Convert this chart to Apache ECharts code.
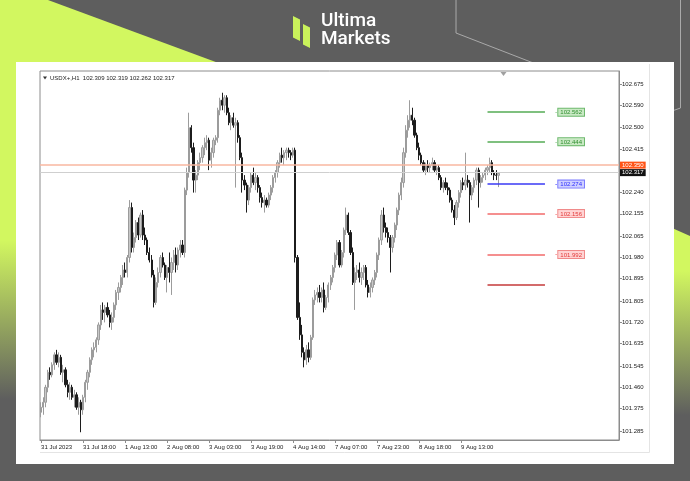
<!DOCTYPE html>
<html><head><meta charset="utf-8">
<script src="https://cdn.jsdelivr.net/npm/echarts@6/dist/echarts.min.js"></script>
<style>html,body{margin:0;padding:0;background:#5e5e5e;overflow:hidden}#c{width:690px;height:481px}</style>
</head><body><div id="c"></div>
<script>
// ---------- data ----------
const symbolTitle = 'USDX+,H1  102.309 102.319 102.262 102.317';
const opens = [101.36,101.38,101.40,101.46,101.52,101.51,101.55,101.59,101.56,101.58,101.52,101.53,101.47,101.44,101.46,101.42,101.43,101.38,101.40,101.37,
101.42,101.48,101.52,101.57,101.61,101.62,101.65,101.71,101.77,101.76,101.78,101.75,101.72,101.74,101.79,101.84,101.86,101.90,101.93,101.92,
101.98,102.18,102.02,102.06,102.12,102.07,102.15,102.07,102.05,102.00,101.97,101.91,101.80,101.88,101.92,101.98,101.95,101.90,101.94,101.92,
101.96,101.99,101.95,102.01,102.03,102.00,102.25,102.32,102.50,102.42,102.29,102.31,102.36,102.38,102.42,102.44,102.45,102.37,102.40,102.45,
102.46,102.57,102.61,102.59,102.62,102.56,102.52,102.54,102.51,102.52,102.46,102.38,102.29,102.27,102.21,102.26,102.31,102.28,102.30,102.26,
102.22,102.20,102.21,102.19,102.23,102.26,102.30,102.32,102.36,102.39,102.38,102.40,102.41,102.40,102.39,102.41,101.98,101.74,101.67,101.60,
101.57,101.61,101.58,101.66,101.81,101.83,101.84,101.82,101.85,101.78,101.82,101.87,101.90,101.94,101.99,102.04,101.95,102.00,102.09,102.15,
102.08,102.00,101.88,101.92,101.93,101.90,101.92,101.94,101.87,101.84,101.86,101.89,101.92,101.99,102.05,102.15,102.10,102.08,102.06,102.02,
102.06,102.11,102.17,102.23,102.28,102.40,102.49,102.53,102.55,102.53,102.47,102.42,102.39,102.36,102.33,102.35,102.34,102.35,102.36,102.33,
102.34,102.30,102.26,102.28,102.26,102.25,102.21,102.17,102.14,102.20,102.24,102.28,102.27,102.29,102.28,102.23,102.26,102.29,102.33,102.28,
102.30,102.31,102.33,102.34,102.36,102.32,102.31,102.309];
const highs = [101.40,101.42,101.47,101.53,101.54,101.56,101.60,101.61,101.60,101.59,101.55,101.54,101.49,101.48,101.47,101.45,101.44,101.42,101.41,101.43,
101.49,101.53,101.58,101.62,101.64,101.66,101.72,101.79,101.80,101.79,101.80,101.77,101.76,101.80,101.85,101.88,101.91,101.95,101.96,101.99,
102.21,102.20,102.08,102.13,102.14,102.16,102.17,102.10,102.06,102.02,101.99,101.93,101.90,101.94,101.99,102.00,101.96,101.95,102.00,101.98,
102.01,102.02,102.02,102.05,102.05,102.26,102.34,102.56,102.51,102.44,102.33,102.37,102.40,102.43,102.46,102.47,102.46,102.42,102.46,102.47,
102.58,102.62,102.64,102.63,102.63,102.58,102.55,102.56,102.54,102.53,102.47,102.40,102.31,102.28,102.27,102.32,102.34,102.32,102.31,102.27,
102.24,102.23,102.22,102.24,102.27,102.31,102.33,102.37,102.40,102.42,102.41,102.42,102.42,102.41,102.42,102.42,101.99,101.80,101.71,101.62,
101.63,101.64,101.67,101.82,101.85,101.86,101.87,101.86,101.88,101.83,101.88,101.91,101.95,102.00,102.05,102.05,102.01,102.10,102.18,102.16,
102.09,102.02,101.94,101.95,101.96,101.94,101.95,101.95,101.89,101.88,101.90,101.93,102.00,102.06,102.17,102.18,102.12,102.10,102.07,102.07,
102.12,102.18,102.24,102.30,102.42,102.51,102.55,102.61,102.58,102.54,102.48,102.44,102.40,102.37,102.36,102.37,102.36,102.38,102.37,102.35,
102.35,102.31,102.29,102.30,102.28,102.26,102.22,102.19,102.21,102.25,102.29,102.30,102.40,102.31,102.29,102.27,102.30,102.34,102.34,102.31,
102.32,102.34,102.35,102.38,102.37,102.33,102.33,102.319];
const lows = [101.34,101.35,101.38,101.44,101.49,101.50,101.53,101.55,101.54,101.51,101.48,101.46,101.42,101.41,101.41,101.38,101.37,101.35,101.28,101.35,
101.40,101.45,101.50,101.55,101.58,101.60,101.63,101.69,101.73,101.72,101.74,101.70,101.69,101.72,101.77,101.81,101.84,101.87,101.90,101.90,
101.96,102.00,102.00,102.04,102.05,102.06,102.05,102.03,101.99,101.96,101.90,101.78,101.79,101.86,101.90,101.94,101.89,101.84,101.88,101.83,
101.93,101.92,101.93,101.98,101.99,101.98,102.23,102.30,102.40,102.24,102.24,102.29,102.33,102.36,102.39,102.41,102.33,102.34,102.38,102.43,
102.44,102.55,102.57,102.56,102.55,102.51,102.49,102.50,102.26,102.44,102.37,102.24,102.25,102.16,102.19,102.24,102.27,102.25,102.24,102.20,
102.18,102.16,102.18,102.18,102.21,102.24,102.28,102.30,102.34,102.36,102.35,102.37,102.38,102.37,102.38,101.96,101.73,101.65,101.58,101.54,
101.55,101.56,101.57,101.65,101.79,101.80,101.80,101.80,101.76,101.77,101.80,101.85,101.88,101.92,101.97,101.94,101.94,101.98,102.07,102.07,
101.99,101.87,101.77,101.89,101.88,101.87,101.89,101.86,101.82,101.82,101.84,101.87,101.90,101.97,102.03,102.08,102.06,102.04,101.92,102.00,
102.04,102.09,102.15,102.21,102.26,102.38,102.46,102.50,102.51,102.46,102.41,102.37,102.35,102.32,102.31,102.32,102.32,102.33,102.32,102.31,
102.29,102.25,102.24,102.25,102.23,102.20,102.16,102.11,102.13,102.18,102.22,102.25,102.25,102.26,102.12,102.21,102.24,102.27,102.18,102.26,
102.28,102.29,102.31,102.32,102.31,102.29,102.29,102.262];
const closes = [101.38,101.40,101.46,101.52,101.51,101.55,101.59,101.56,101.58,101.52,101.53,101.47,101.44,101.46,101.42,101.43,101.38,101.40,101.37,101.42,
101.48,101.52,101.57,101.61,101.62,101.65,101.71,101.77,101.76,101.78,101.75,101.72,101.74,101.79,101.84,101.86,101.90,101.93,101.92,101.98,
102.18,102.02,102.06,102.12,102.07,102.15,102.07,102.05,102.00,101.97,101.91,101.80,101.88,101.92,101.98,101.95,101.90,101.94,101.92,101.96,
101.99,101.95,102.01,102.03,102.00,102.25,102.32,102.50,102.42,102.29,102.31,102.36,102.38,102.42,102.44,102.45,102.37,102.40,102.45,102.46,
102.57,102.61,102.59,102.62,102.56,102.52,102.54,102.51,102.52,102.46,102.38,102.29,102.27,102.21,102.26,102.31,102.28,102.30,102.26,102.22,
102.20,102.21,102.19,102.23,102.26,102.30,102.32,102.36,102.39,102.38,102.40,102.41,102.40,102.39,102.41,101.98,101.74,101.67,101.60,101.57,
101.61,101.58,101.66,101.81,101.83,101.84,101.82,101.85,101.78,101.82,101.87,101.90,101.94,101.99,102.04,101.95,102.00,102.09,102.15,102.08,
102.00,101.88,101.92,101.93,101.90,101.92,101.94,101.87,101.84,101.86,101.89,101.92,101.99,102.05,102.15,102.10,102.08,102.06,102.02,102.06,
102.11,102.17,102.23,102.28,102.40,102.49,102.53,102.55,102.53,102.47,102.42,102.39,102.36,102.33,102.35,102.34,102.35,102.36,102.33,102.34,
102.30,102.26,102.28,102.26,102.25,102.21,102.17,102.14,102.20,102.24,102.28,102.27,102.29,102.28,102.23,102.26,102.29,102.33,102.28,102.30,
102.31,102.33,102.34,102.36,102.32,102.31,102.309,102.317];
const xLabels = ['31 Jul 2023','31 Jul 18:00','1 Aug 13:00','2 Aug 08:00','3 Aug 03:00','3 Aug 19:00','4 Aug 14:00','7 Aug 07:00','7 Aug 23:00','8 Aug 18:00','9 Aug 13:00'];
const xLabelBars = [0,19,38,57,76,95,114,133,152,171,190];
const slotCount = 262; // bars + empty right margin of the terminal
const yTicks = [102.675,102.590,102.500,102.415,102.240,102.155,102.065,101.980,101.895,101.805,101.720,101.635,101.545,101.460,101.375,101.285];
const askPrice = 102.350;
const bidPrice = 102.317;
const levelValues = [102.562,102.444,102.274,102.156,101.992,101.870];
const levelKinds  = ['g','g','b','r','r','d'];
const levelShowLabel = [true,true,true,true,true,false];

// ---------- build ----------
const cats = Array.from({length: slotCount}, () => '');
xLabelBars.forEach((b, i) => { cats[b] = xLabels[i]; });
const labelSet = new Set(xLabelBars);
const candles = opens.map((o, i) => [o, closes[i], lows[i], highs[i]]);
const F = 'Liberation Sans';
const kindStyle = {
  g: {line:'#7fc07f', width:2, text:'#2f8f2f', bg:'#c9e9c4', border:'#6cb86c'},
  b: {line:'#3a3af5', width:1.5, text:'#2b2bff', bg:'#cfd0ff', border:'#7b7bff'},
  r: {line:'#f26a6a', width:1.5, text:'#e23a3a', bg:'#ffd4d4', border:'#f08a8a'},
  d: {line:'#c43a3a', width:1.5, text:'#c43a3a', bg:'#ffd4d4', border:'#f08a8a'}
};
const LVL_START = 202, LVL_END = 228;
const levelLines = levelValues.map((v, i) => {
  const s = kindStyle[levelKinds[i]];
  return [
    {coord:[LVL_START, v], lineStyle:{color:s.line, width:s.width, type:'solid'},
     label:{show: levelShowLabel[i], position:'end', distance:10,
       formatter:'{d|-}{b|' + v.toFixed(3) + '}',
       rich:{ d:{color:s.line, fontSize:7, fontFamily:F, padding:[0,1,0,0]},
              b:{color:s.text, fontSize:6, fontFamily:F, backgroundColor:s.bg, borderColor:s.border, borderWidth:1, padding:[1,2,0,2]} } } },
    {coord:[LVL_END, v]}
  ];
});

const G = [];
// background decoration
G.push({type:'rect', z:-100, shape:{x:0,y:0,width:690,height:481}, style:{fill:'#5e5e5e'}});
G.push({type:'polygon', z:-99, shape:{points:[[0,0],[48,0],[232,68],[0,68]]}, style:{fill:'#d2f760'}});
G.push({type:'rect', z:-99, shape:{x:0,y:0,width:17,height:481}, style:{fill:{type:'linear',x:0,y:0,x2:0,y2:1,colorStops:[
  {offset:0,color:'#d2f760'},{offset:0.5,color:'#d2f760'},{offset:0.83,color:'#5e5e5e'},{offset:1,color:'#5e5e5e'}]}}});
G.push({type:'polygon', z:-99, shape:{points:[[672,228],[690,236],[690,481],[672,481]]}, style:{fill:{type:'linear',x:0,y:0,x2:0,y2:1,colorStops:[
  {offset:0,color:'#d2f760'},{offset:0.17,color:'#d2f760'},{offset:0.74,color:'#5e5e5e'},{offset:1,color:'#5e5e5e'}]}}});
G.push({type:'polyline', z:-98, shape:{points:[[456,0],[456,33],[536,64]]}, style:{stroke:'#a9a9a9', lineWidth:1, fill:null}});
G.push({type:'polyline', z:-98, shape:{points:[[680.5,0],[680.5,108],[672,111]]}, style:{stroke:'#a9a9a9', lineWidth:1, fill:null}});
// white panel
G.push({type:'rect', z:-90, shape:{x:16,y:62,width:658,height:402}, style:{fill:'#ffffff'}});
G.push({type:'polyline', z:-89, shape:{points:[[649.5,64],[649.5,452.5],[40,452.5]]}, style:{stroke:'#e4e4e4', lineWidth:1, fill:null}});
// logo
G.push({type:'polygon', z:10, shape:{points:[[293,16],[300,19.5],[300,41],[293,37.5]]}, style:{fill:'#c9f25b'}});
G.push({type:'polygon', z:10, shape:{points:[[303,24],[310,27.5],[310,48],[303,44.5]]}, style:{fill:'#c9f25b'}});
G.push({type:'text', z:10, x:321, y:12, style:{text:'Ultima', fill:'#ffffff', font:'500 19px Roboto'}});
G.push({type:'text', z:10, x:321, y:30, style:{text:'Markets', fill:'#ffffff', font:'500 19px Roboto'}});
// terminal header
G.push({type:'polygon', z:10, shape:{points:[[43,76.5],[47,76.5],[45,79.5]]}, style:{fill:'#333'}});
G.push({type:'text', z:10, x:50, y:75, style:{text:symbolTitle, fill:'#222', font:'6px "Liberation Sans"'}});
G.push({type:'polygon', z:10, shape:{points:[[500.5,72],[506.5,72],[503.5,76]]}, style:{fill:'#a0a0a0'}});

const option = {
  animation:false,
  backgroundColor:'#5e5e5e',
  graphic:{elements:G},
  grid:{left:40, right:71, top:71, bottom:41, show:true, borderColor:'#8c8c8c', borderWidth:1, backgroundColor:'transparent'},
  xAxis:{type:'category', data:cats, boundaryGap:true,
    axisLine:{show:true, lineStyle:{color:'#8c8c8c'}},
    axisTick:{show:true, interval:(i)=>labelSet.has(i), alignWithLabel:true, length:3, lineStyle:{color:'#8c8c8c'}},
    axisLabel:{interval:(i)=>labelSet.has(i), align:'left', margin:4, fontSize:6, fontFamily:F, color:'#222'},
    splitLine:{show:false}},
  yAxis:{type:'value', position:'right', min:101.2489, max:102.7271, scale:true,
    axisLine:{show:true, lineStyle:{color:'#8c8c8c'}},
    axisTick:{show:true, customValues:yTicks, length:3, lineStyle:{color:'#8c8c8c'}},
    axisLabel:{customValues:yTicks, formatter:(v)=>v.toFixed(3), margin:3, fontSize:6, fontFamily:F, color:'#222'},
    splitLine:{show:false}},
  series:[{
    type:'candlestick', data:candles, barWidth:1.7,
    itemStyle:{color:'#c8c8c8', borderColor:'#9c9c9c', color0:'#1c1c1c', borderColor0:'#1c1c1c', borderWidth:1},
    markLine:{silent:true, symbol:['none','none'], animation:false,
      data:[
        {yAxis:askPrice, lineStyle:{color:'#f9b7a0', width:1.5, type:'solid'},
         label:{show:true, position:'end', distance:1, formatter:askPrice.toFixed(3), color:'#fff', backgroundColor:'#ff5417', padding:[1,2,0,2], fontSize:6, fontFamily:F}},
        {yAxis:bidPrice, lineStyle:{color:'#cfcfcf', width:1, type:'solid'},
         label:{show:true, position:'end', distance:1, formatter:bidPrice.toFixed(3), color:'#fff', backgroundColor:'#111', padding:[1,2,0,2], fontSize:6, fontFamily:F}},
        ...levelLines
      ]}
  }]
};
const chart = echarts.init(document.getElementById('c'), null, {renderer:'canvas'});
chart.setOption(option);
</script>
</body></html>
